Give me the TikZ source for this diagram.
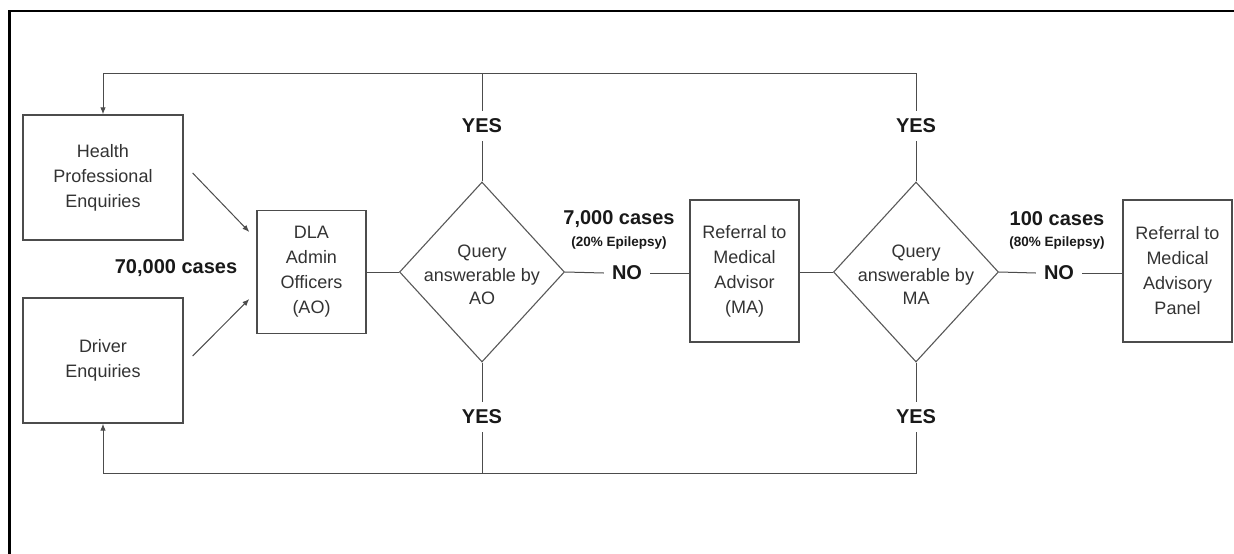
\documentclass[tikz,border=0pt]{standalone}
\usepackage{fontspec}
\setmainfont{Liberation Sans}
\usetikzlibrary{shapes.geometric,arrows.meta}
\tikzset{
  x=1pt,y=-1pt,
  boxnode/.style={draw=black!70,line width=1.3pt,inner sep=0pt,align=center,text=black!80,
    font=\fontsize{18}{25}\selectfont},
  dianode/.style={draw=black!65,line width=1.1pt,shape=diamond,inner sep=0pt,minimum width=165,minimum height=180},
  diatext/.style={align=center,text=black!80,font=\fontsize{18}{23.5}\selectfont},
  bigbold/.style={font=\fontsize{20}{22}\selectfont\bfseries,text=black!90,inner sep=0pt},
  smallbold/.style={font=\fontsize{13.5}{15}\selectfont\bfseries,text=black!90,inner sep=0pt},
  yesno/.style={font=\fontsize{20}{22}\selectfont\bfseries,text=black!90,inner sep=8pt},
  conn/.style={draw=black!70,line width=1pt},
  arr/.style={conn,-{Latex[length=7pt,width=5.5pt]}},
  frameline/.style={draw=black,line width=2.6pt}
}
\begin{document}
\begin{tikzpicture}
\useasboundingbox (0,0) rectangle (1234,554);
\fill[white] (0,0) rectangle (1234,554);
\draw[frameline] (9.2,554) -- (9.2,11) -- (1234,11);

% boxes
\node[boxnode,minimum width=160,minimum height=125] (hpe) at (103,177.5) {Health\\Professional\\Enquiries};
\node[boxnode,minimum width=160,minimum height=125] (de) at (103,360.5) {Driver\\Enquiries};
\node[boxnode,minimum width=109,minimum height=123] (dla) at (311.5,272) {DLA\\Admin\\Officers\\(AO)};
\node[boxnode,minimum width=109,minimum height=142] (ma) at (744.5,271) {Referral to\\Medical\\Advisor\\(MA)};
\node[boxnode,minimum width=109,minimum height=142] (map) at (1177.5,271) {Referral to\\Medical\\Advisory\\Panel};

% diamonds
\node[dianode] (d1) at (482,272) {};
\node[diatext] (d1t) at (482,275) {Query\\answerable by\\AO};
\node[dianode] (d2) at (916,272) {};
\node[diatext] (d2t) at (916,275) {Query\\answerable by\\MA};

% labels
\node[bigbold] (c70) at (176,268) {70,000 cases};
\node[bigbold] (c7) at (619,219) {7,000 cases};
\node[smallbold] (e20) at (619,243) {(20\% Epilepsy)};
\node[bigbold] (c100) at (1057,219) {100 cases};
\node[smallbold] (e80) at (1057,243) {(80\% Epilepsy)};

\node[yesno] (y1t) at (482,126) {YES};
\node[yesno] (y2t) at (916,126) {YES};
\node[yesno] (y1b) at (482,417) {YES};
\node[yesno] (y2b) at (916,417) {YES};
\node[yesno] (no1) at (627,273) {NO};
\node[yesno] (no2) at (1059,273) {NO};

\coordinate (topR) at (916,73);
\coordinate (botR) at (916,473);

% connectors
\draw[arr] ([shift={(9,-4.5)}]hpe.east) -- ([shift={(-7,-40)}]dla.west);
\draw[arr] ([shift={(9,-4.5)}]de.east) -- ([shift={(-7,27)}]dla.west);
\draw[conn] (dla.east) -- (d1.west);
\draw[conn] (d1.east) -- (no1.west);
\draw[conn] (no1.east) -- (ma.west |- no1.east);
\draw[conn] (ma.east |- d2.west) -- (d2.west);
\draw[conn] (d2.east) -- (no2.west);
\draw[conn] (no2.east) -- (map.west |- no2.east);

\draw[conn] (d1.north) -- (y1t.south);
\draw[conn] (d2.north) -- (y2t.south);
\draw[conn] (d1.south) -- (y1b.north);
\draw[conn] (d2.south) -- (y2b.north);
\draw[conn] (y1t.north) -- (y1t.north |- topR);
\draw[conn] (y1b.south) -- (y1b.south |- botR);
\draw[arr] (y2t.north) -- (topR) -- (hpe.north |- topR) -- (hpe.north);
\draw[arr] (y2b.south) -- (botR) -- (de.south |- botR) -- (de.south);
\end{tikzpicture}
\end{document}
